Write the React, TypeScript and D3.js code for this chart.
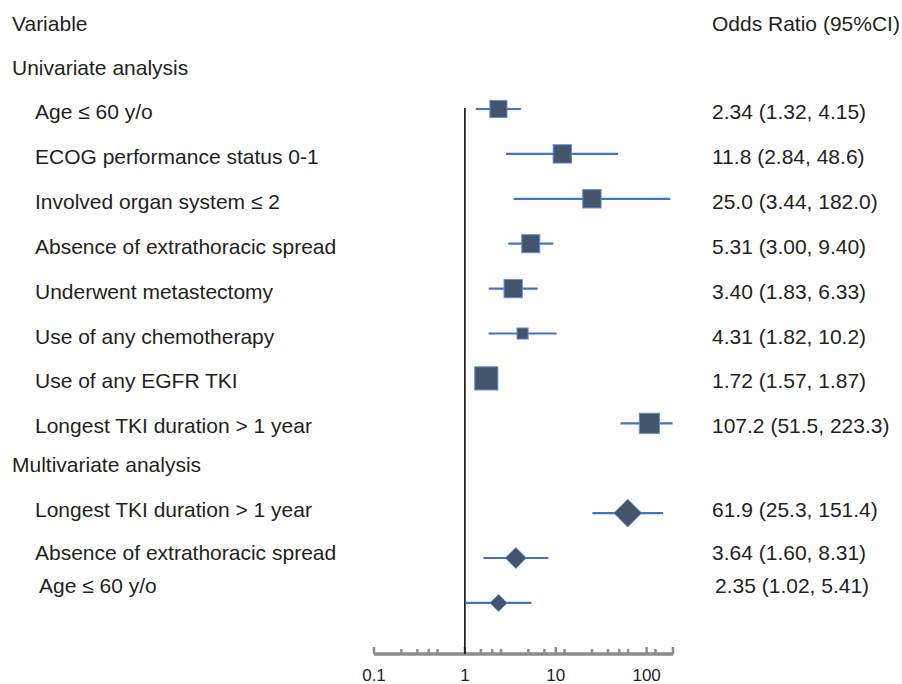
import React from "react";
import * as d3 from "d3";

// rows of the forest plot
const labels = [
  "Age ≤ 60 y/o",
  "ECOG performance status 0-1",
  "Involved organ system ≤ 2",
  "Absence of extrathoracic spread",
  "Underwent metastectomy",
  "Use of any chemotherapy",
  "Use of any EGFR TKI",
  "Longest TKI duration > 1 year",
  "Longest TKI duration > 1 year",
  "Absence of extrathoracic spread",
  "Age ≤ 60 y/o",
];
const groups = ["uni", "uni", "uni", "uni", "uni", "uni", "uni", "uni", "multi", "multi", "multi"];
const oddsRatio = [2.34, 11.8, 25.0, 5.31, 3.4, 4.31, 1.72, 107.2, 61.9, 3.64, 2.35];
const ciLow = [1.32, 2.84, 3.44, 3.0, 1.83, 1.82, 1.57, 51.5, 25.3, 1.6, 1.02];
const ciHigh = [4.15, 48.6, 182.0, 9.4, 6.33, 10.2, 1.87, 223.3, 151.4, 8.31, 5.41];
const ciText = [
  "2.34 (1.32, 4.15)",
  "11.8 (2.84, 48.6)",
  "25.0 (3.44, 182.0)",
  "5.31 (3.00, 9.40)",
  "3.40 (1.83, 6.33)",
  "4.31 (1.82, 10.2)",
  "1.72 (1.57, 1.87)",
  "107.2 (51.5, 223.3)",
  "61.9 (25.3, 151.4)",
  "3.64 (1.60, 8.31)",
  "2.35 (1.02, 5.41)",
];
// relative marker weight (percent)
const weight = [57, 61, 61, 60, 61, 37, 77, 67, 93, 70, 57];

const tickLabels = [0.1, 1, 10, 100];
const minorTicks = [0.2, 0.3, 0.4, 0.5, 1.5, 2, 2.5, 5, 7.5, 12.5, 25, 37.5, 50, 62.5, 125];

const W = 902;
const H = 684;
const FONT = "'Liberation Sans', Arial, Helvetica, sans-serif";
const TEXT = "#231f20";

export default function App() {
  const x = d3.scaleLog().domain([0.1, 200]).range([374, 674]);
  // row 0 header, 1 univariate, 2-9 rows, 10 multivariate, 11-13 rows
  const y = d3.scaleLinear().domain([2, 3]).range([109, 153.9]);
  const rowIndex = labels.map((d, i) => (groups[i] === "uni" ? i + 2 : i + 3));
  const size = d3.scaleLinear().domain([0, 100]).range([0, 30]);
  const textShift = [12, 11, 10, 10, 10, 10, 10, 10, 10, 10, 4, 4, 2, -10];
  const axisY = 654;
  const clamp = (v) => Math.min(Math.max(v, 0.1), 193);

  return (
    <div style={{ position: "absolute", left: 0, top: 0 }}>
      <svg width={W} height={H} style={{ display: "block", background: "#fff" }}>
        <defs>
          <filter id="shadow" x="-10%" y="-200%" width="120%" height="500%">
            <feGaussianBlur stdDeviation="1.2" />
          </filter>
        </defs>

        <g fontFamily={FONT} fontSize={21} fill={TEXT}>
          <text x={12} y={y(0) + textShift[0]}>Variable</text>
          <text x={712} y={y(0) + textShift[0]}>Odds Ratio (95%CI)</text>
          <text x={12} y={y(1) + textShift[1]}>Univariate analysis</text>
          <text x={12} y={y(10) + textShift[10]}>Multivariate analysis</text>
          {labels.map((d, i) => {
            const r = rowIndex[i];
            const last = i === labels.length - 1;
            return (
              <g key={i}>
                <text x={last ? 39 : 35} y={y(r) + textShift[r]}>{d}</text>
                <text x={last ? 715 : 712} y={y(r) + textShift[r]}>{ciText[i]}</text>
              </g>
            );
          })}
        </g>

        {/* axis */}
        <g stroke="#8c8c8c" strokeWidth={2.5}>
          <line x1={x(0.1)} x2={673} y1={axisY} y2={axisY} strokeWidth={3.5} />
          {minorTicks.map((t) => (
            <line key={t} x1={x(t)} x2={x(t)} y1={axisY} y2={axisY - 5} />
          ))}
          {tickLabels.map((t) => (
            <line key={t} x1={x(t)} x2={x(t)} y1={axisY} y2={axisY - 7} />
          ))}
          <line x1={673} x2={673} y1={axisY} y2={axisY - 7} />
        </g>
        <g fontFamily={FONT} fontSize={17} fill={TEXT} textAnchor="middle">
          {tickLabels.map((t) => (
            <text key={t} x={x(t)} y={681}>{t}</text>
          ))}
        </g>

        {/* reference line at OR = 1 */}
        <line x1={x(1)} x2={x(1)} y1={108} y2={axisY} stroke="#111" strokeWidth={1.6} />

        {/* CIs and markers */}
        {oddsRatio.map((v, i) => {
          const cy = y(rowIndex[i]);
          const cx = x(v);
          const s = size(weight[i]);
          const x1 = x(clamp(ciLow[i]));
          const x2 = x(clamp(ciHigh[i]));
          return (
            <g key={i}>
              <line x1={x1} x2={x2} y1={cy + 3} y2={cy + 3} stroke="#b5b5b5" strokeWidth={3} filter="url(#shadow)" />
              <line x1={x1} x2={x2} y1={cy} y2={cy} stroke="#4472c4" strokeWidth={2.2} />
              {groups[i] === "uni" ? (
                <rect x={cx - s / 2} y={cy - s / 2} width={s} height={s} fill="#44546a" stroke="#5b8ee0" strokeWidth={1} />
              ) : (
                <path
                  d={`M${cx},${cy - s / 2}L${cx + s / 2},${cy}L${cx},${cy + s / 2}L${cx - s / 2},${cy}Z`}
                  fill="#44546a"
                  stroke="#5b8ee0"
                  strokeWidth={0.8}
                />
              )}
            </g>
          );
        })}
      </svg>
    </div>
  );
}
